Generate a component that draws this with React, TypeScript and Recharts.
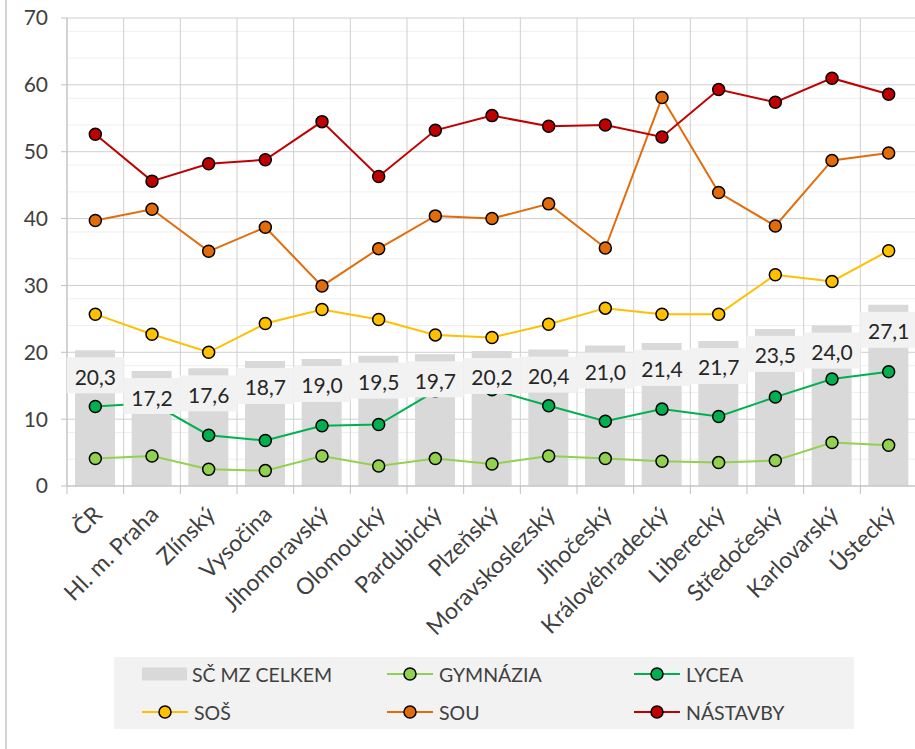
import {
  Bar,
  CartesianGrid,
  ComposedChart,
  LabelList,
  Legend,
  Line,
  XAxis,
  YAxis,
} from 'recharts';

const regions = [
  'ČR',
  'Hl. m. Praha',
  'Zlínský',
  'Vysočina',
  'Jihomoravský',
  'Olomoucký',
  'Pardubický',
  'Plzeňský',
  'Moravskoslezský',
  'Jihočeský',
  'Královéhradecký',
  'Liberecký',
  'Středočeský',
  'Karlovarský',
  'Ústecký',
];
const celkem = [20.3, 17.2, 17.6, 18.7, 19.0, 19.5, 19.7, 20.2, 20.4, 21.0, 21.4, 21.7, 23.5, 24.0, 27.1];
const gymnazia = [4.1, 4.5, 2.5, 2.3, 4.5, 3.0, 4.1, 3.3, 4.5, 4.1, 3.7, 3.5, 3.8, 6.5, 6.1];
const lycea = [11.9, 12.4, 7.6, 6.8, 9.0, 9.2, 14.2, 14.4, 12.0, 9.7, 11.5, 10.4, 13.3, 16.0, 17.1];
const sos = [25.7, 22.7, 20.0, 24.3, 26.4, 24.9, 22.6, 22.2, 24.2, 26.6, 25.7, 25.7, 31.6, 30.6, 35.2];
const sou = [39.7, 41.4, 35.1, 38.7, 29.9, 35.5, 40.4, 40.0, 42.2, 35.6, 58.1, 43.9, 38.9, 48.7, 49.8];
const nastavby = [52.6, 45.6, 48.2, 48.8, 54.5, 46.3, 53.2, 55.4, 53.8, 54.0, 52.2, 59.3, 57.4, 61.0, 58.6];

const yTicks = [0, 10, 20, 30, 40, 50, 60, 70];
const minorTicks = [2, 4, 6, 8, 12, 14, 16, 18, 22, 24, 26, 28, 32, 34, 36, 38, 42, 44, 46, 48, 52, 54, 56, 58, 62, 64, 66, 68];

const BAR_NAME = 'SČ MZ CELKEM';
const lineSeries = [
  { key: 'gymnazia', name: 'GYMNÁZIA', color: '#92d050', values: gymnazia },
  { key: 'lycea', name: 'LYCEA', color: '#00b050', values: lycea },
  { key: 'sos', name: 'SOŠ', color: '#ffc000', values: sos },
  { key: 'sou', name: 'SOU', color: '#e36c0a', values: sou },
  { key: 'nastavby', name: 'NÁSTAVBY', color: '#c00000', values: nastavby },
];

const data = regions.map((region, i) => {
  const row: Record<string, string | number> = { region, celkem: celkem[i] };
  lineSeries.forEach((s) => {
    row[s.key] = s.values[i];
  });
  return row;
});

const FONT = 'Lato, "Open Sans", sans-serif';
const TEXT = '#404040';
const CHART_W = 925;
const CHART_H = 749;
const PLOT_LEFT = 67;
const PLOT_RIGHT = 917;
const BAND = (PLOT_RIGHT - PLOT_LEFT) / regions.length;

function CategoryTick(props: any) {
  const { x, y, payload } = props;
  const bx = x - BAND / 2;
  const ax = x + 8;
  const ay = y + 30;
  return (
    <g>
      <line x1={bx} y1={y} x2={bx} y2={y + 8} stroke="#bfbfbf" />
      <text
        x={ax}
        y={ay}
        textAnchor="end"
        fontSize={23}
        fontFamily={FONT}
        fill={TEXT}
        transform={`rotate(-45 ${ax} ${ay})`}
      >
        {payload.value}
      </text>
    </g>
  );
}

function ValueBox(props: any) {
  const x = props.x ?? props.viewBox?.x;
  const y = props.y ?? props.viewBox?.y;
  const label = Number(props.value).toFixed(1).replace('.', ',');
  return (
    <g>
      <rect x={x - 28.5} y={y + 7} width={57} height={36} fill="#f2f2f2" />
      <text
        x={x}
        y={y + 26}
        textAnchor="middle"
        dominantBaseline="central"
        fontSize={21}
        fontFamily={FONT}
        fill="#262626"
      >
        {label}
      </text>
    </g>
  );
}

function LegendBox() {
  const rows = [17, 55];
  const cols = [28, 273, 520];
  const items = [
    { name: BAR_NAME, color: '#d9d9d9', bar: true },
    { name: lineSeries[0].name, color: lineSeries[0].color },
    { name: lineSeries[1].name, color: lineSeries[1].color },
    { name: lineSeries[2].name, color: lineSeries[2].color },
    { name: lineSeries[3].name, color: lineSeries[3].color },
    { name: lineSeries[4].name, color: lineSeries[4].color },
  ];
  return (
    <svg width={740} height={72} style={{ display: 'block' }}>
      <rect x={0} y={0} width={740} height={72} fill="#f2f2f2" />
      {items.map((it, i) => {
        const cx = cols[i % 3];
        const cy = rows[Math.floor(i / 3)];
        return (
          <g key={it.name}>
            {it.bar ? (
              <rect x={cx} y={cy - 6.5} width={45} height={13} fill={it.color} />
            ) : (
              <g>
                <line x1={cx} y1={cy} x2={cx + 46} y2={cy} stroke={it.color} strokeWidth={2} />
                <circle cx={cx + 23} cy={cy} r={6} fill={it.color} stroke="#000" strokeWidth={1.5} />
              </g>
            )}
            <text
              x={cx + (it.bar ? 50 : 52)}
              y={cy}
              dominantBaseline="central"
              fontSize={19.5}
              fontFamily={FONT}
              fill={TEXT}
            >
              {it.name}
            </text>
          </g>
        );
      })}
    </svg>
  );
}

export default function App() {
  return (
    <div
      style={{
        position: 'absolute',
        left: 0,
        top: 0,
        width: 915,
        height: 749,
        overflow: 'hidden',
        background: '#fff',
      }}
    >
      <div
        style={{
          position: 'absolute',
          left: 5,
          top: 0,
          width: 0,
          height: 749,
          borderLeft: '2px solid #d4d4d4',
        }}
      />
      <ComposedChart
        width={CHART_W}
        height={CHART_H}
        data={data}
        margin={{ top: 18, right: CHART_W - PLOT_RIGHT, bottom: 0, left: 0 }}
      >
        <CartesianGrid
          horizontalValues={minorTicks}
          vertical={false}
          stroke="#efefef"
          strokeWidth={1}
        />
        <CartesianGrid
          horizontalValues={yTicks}
          stroke="#cfcfcf"
          verticalCoordinatesGenerator={({ offset }: any) =>
            regions.map((_, i) => offset.left + (i * offset.width) / regions.length).concat(offset.left + offset.width)
          }
        />
        <XAxis
          dataKey="region"
          interval={0}
          height={CHART_H - 486}
          tickLine={false}
          tickSize={0}
          tickMargin={0}
          axisLine={{ stroke: '#bfbfbf' }}
          tick={<CategoryTick />}
        />
        <YAxis
          domain={[0, 70]}
          ticks={yTicks}
          width={PLOT_LEFT}
          tickSize={6}
          tickMargin={13}
          axisLine={{ stroke: '#bfbfbf' }}
          tickLine={{ stroke: '#bfbfbf' }}
          tick={{ fontSize: 21, fontFamily: FONT, fill: TEXT }}
        />
        <Legend
          verticalAlign="middle"
          align="center"
          wrapperStyle={{ left: 114, top: 657, width: 740, height: 72 }}
          content={<LegendBox />}
        />
        <Bar dataKey="celkem" name={BAR_NAME} fill="#d9d9d9" barSize={40} isAnimationActive={false} />
        {lineSeries.map((s) => (
          <Line
            key={s.key}
            dataKey={s.key}
            name={s.name}
            stroke={s.color}
            strokeWidth={2}
            dot={{ r: 6, fill: s.color, stroke: '#000', strokeWidth: 1.5 }}
            activeDot={false}
            isAnimationActive={false}
          />
        ))}
        <Line
          dataKey="celkem"
          stroke="none"
          dot={false}
          activeDot={false}
          legendType="none"
          isAnimationActive={false}
        >
          <LabelList dataKey="celkem" content={<ValueBox />} />
        </Line>
      </ComposedChart>
    </div>
  );
}
